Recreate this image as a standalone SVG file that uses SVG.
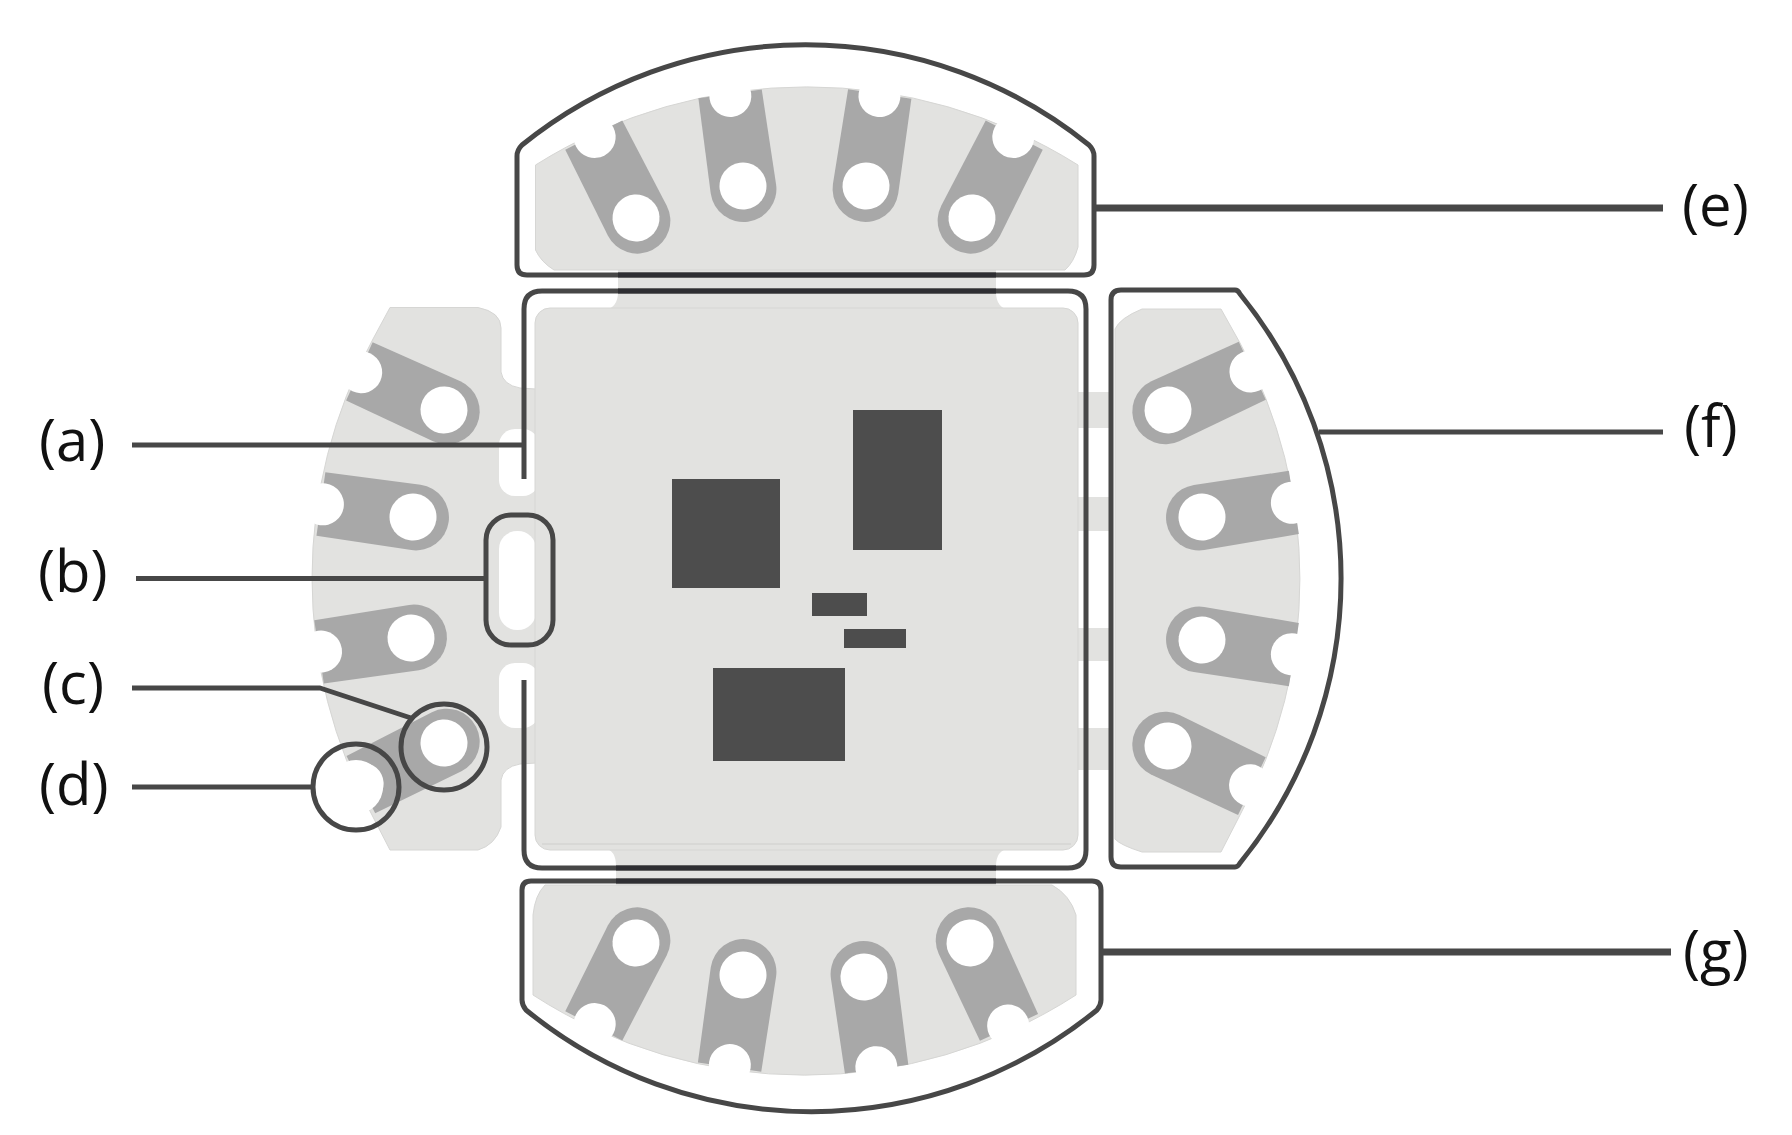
<svg xmlns="http://www.w3.org/2000/svg" xmlns:xlink="http://www.w3.org/1999/xlink" width="1792" height="1135" viewBox="0 0 1792 1135">
<style>
.board{fill:#e2e2e0;stroke:#d6d6d4;stroke-width:1}
.neck{fill:#e2e2e0}
.cut{fill:#fff}
.chip{fill:#4d4d4d}
.edge{fill:none;stroke:#474747;stroke-width:5;stroke-linejoin:round;stroke-linecap:butt}
.seam{fill:none;stroke:#2e2e32;stroke-width:5}
.band{fill:none;stroke:#d8d8d6;stroke-width:2}
.lead{fill:none;stroke:#474747;stroke-width:5;stroke-linejoin:round}
.thick{stroke-width:7}
.label{font-family:"Open Sans","Liberation Sans",sans-serif;font-size:58px;fill:#111}
</style>
<defs>
<g id="pad">
<path d="M-33,3 A33,33 0 0 0 33,3 L32,-93 L-32,-93 Z" fill="#a8a8a8"/>
<circle cx="0" cy="-91" r="21" fill="#fff"/>
<circle cx="0" cy="0" r="23.5" fill="#fff"/>
</g>
</defs>
<rect width="1792" height="1135" fill="#fff"/>

<g id="tab-left">
<path class="board" d="M390,307.5 L478,307.5 Q501,312 501,328 L501,372 Q503,385 520,388 L536,389 L536,763 L520,764 Q503,767 501,780 L501,827 Q495,845 478,850 L390,850 L373,817 A499,499 0 0 1 373,339 Z"/>
<rect class="cut" x="499" y="429" width="40" height="67" rx="16"/>
<rect class="cut" x="499" y="531" width="37" height="99" rx="18"/>
<rect class="cut" x="499" y="663" width="40" height="65" rx="16"/>
<use xlink:href="#pad" href="#pad" transform="translate(444,410) rotate(-65.5)"/>
<use xlink:href="#pad" href="#pad" transform="translate(413,517) rotate(-82)"/>
<use xlink:href="#pad" href="#pad" transform="translate(411,638) rotate(-98.6)"/>
<use xlink:href="#pad" href="#pad" transform="translate(444,743) rotate(-116.6)"/>
<circle class="cut" cx="356" cy="787" r="27"/>
</g>

<g id="necks">
<path class="neck" d="M604,310 Q618,308 618,292 L618,268 L996,268 L996,292 Q996,308 1010,310 Z"/>
<path class="neck" d="M604,848 Q616,850 616,866 L616,888 L996,888 L996,866 Q996,850 1010,848 Z"/>
<rect class="neck" x="1076" y="392" width="36" height="36"/>
<rect class="neck" x="1076" y="497" width="36" height="34"/>
<rect class="neck" x="1076" y="628" width="36" height="33"/>
<rect class="neck" x="1076" y="728" width="36" height="42"/>
</g>

<g id="tab-top">
<path class="board" d="M535.5,165 A510,510 0 0 1 1078,165 L1078,247 Q1074,262 1065,270 L554,270 Q541,262 535.5,250 Z"/>
<use xlink:href="#pad" href="#pad" transform="translate(636,218) rotate(-27)"/>
<use xlink:href="#pad" href="#pad" transform="translate(743,186) rotate(-8)"/>
<use xlink:href="#pad" href="#pad" transform="translate(866,186) rotate(8.5)"/>
<use xlink:href="#pad" href="#pad" transform="translate(972,218) rotate(27)"/>
<path class="edge" d="M517,265 L517,156 Q517,150 522,145 A451,451 0 0 1 1089,145 Q1094,150 1094,156 L1094,265 Q1094,275 1084,275 L527,275 Q517,275 517,265 Z"/>
</g>

<g id="tab-right">
<path class="board" d="M1115,329 Q1120,318 1142,309 L1221,309 L1240,343 A495,495 0 0 1 1240,815 L1221,852 L1142,852 Q1120,845 1115,839 Z"/>
<use xlink:href="#pad" href="#pad" transform="translate(1168,410) rotate(65)"/>
<use xlink:href="#pad" href="#pad" transform="translate(1202,517) rotate(81)"/>
<use xlink:href="#pad" href="#pad" transform="translate(1202,640) rotate(99)"/>
<use xlink:href="#pad" href="#pad" transform="translate(1168,746) rotate(115.6)"/>
<path class="edge" d="M1121,290 L1235,290 Q1238,290 1240,294 A451,451 0 0 1 1240,863 Q1238,867 1235,867 L1121,867 Q1111,867 1111,857 L1111,300 Q1111,290 1121,290 Z"/>
</g>

<g id="tab-bottom">
<path class="board" d="M533,915 Q535,895 545,885 L1052,885 Q1070,895 1076,915 L1076,995 A500,500 0 0 1 533,995 Z"/>
<use xlink:href="#pad" href="#pad" transform="translate(636,943) rotate(-153)"/>
<use xlink:href="#pad" href="#pad" transform="translate(743,975) rotate(-171.7)"/>
<use xlink:href="#pad" href="#pad" transform="translate(864,977) rotate(172.2)"/>
<use xlink:href="#pad" href="#pad" transform="translate(970,943) rotate(155.2)"/>
<path class="edge" d="M522,890 Q522,881 531,881 L1092,881 Q1101,881 1101,890 L1101,1000 Q1101,1005 1097,1010 A451.6,451.6 0 0 1 526,1010 Q522,1005 522,1000 Z"/>
</g>

<g id="main-board">
<rect class="board" x="535" y="308" width="543" height="542" rx="15"/>
<path class="band" d="M542,844 H1071"/>
<path class="edge" d="M524,479 L524,309 Q524,291 542,291 L1068,291 Q1086,291 1086,309 L1086,850 Q1086,868 1068,868 L542,868 Q524,868 524,850 L524,680"/>
<path class="seam" d="M618,275 H996 M618,291 H996 M616,868 H996 M616,881 H996"/>
<rect class="chip" x="672" y="479" width="108" height="109"/>
<rect class="chip" x="853" y="410" width="89" height="140"/>
<rect class="chip" x="812" y="593" width="55" height="23"/>
<rect class="chip" x="844" y="629" width="62" height="19"/>
<rect class="chip" x="713" y="668" width="132" height="93"/>
</g>

<g id="marker-b"><rect class="edge" x="486" y="515" width="67" height="130" rx="25"/></g>
<g id="marker-c"><circle class="edge" cx="444" cy="747" r="43"/></g>
<g id="marker-d"><circle class="edge" cx="356" cy="787" r="43"/></g>

<g id="connectors">
<path class="lead" d="M132,445 H522"/>
<path class="lead" d="M136,578.5 H486"/>
<path class="lead" d="M132,688 H320 L411,718"/>
<path class="lead" d="M132,787 H314"/>
<path class="lead thick" d="M1094,208 H1663"/>
<path class="lead" d="M1319,432 H1663"/>
<path class="lead thick" d="M1101,952 H1671"/>
</g>

<g id="labels">
<text class="label" x="39" y="461">(a)</text>
<text class="label" x="38" y="592">(b)</text>
<text class="label" x="42" y="704">(c)</text>
<text class="label" x="39" y="805">(d)</text>
<text class="label" x="1682" y="226">(e)</text>
<text class="label" x="1684" y="447">(f)</text>
<text class="label" x="1683" y="972">(g)</text>
</g>
</svg>
